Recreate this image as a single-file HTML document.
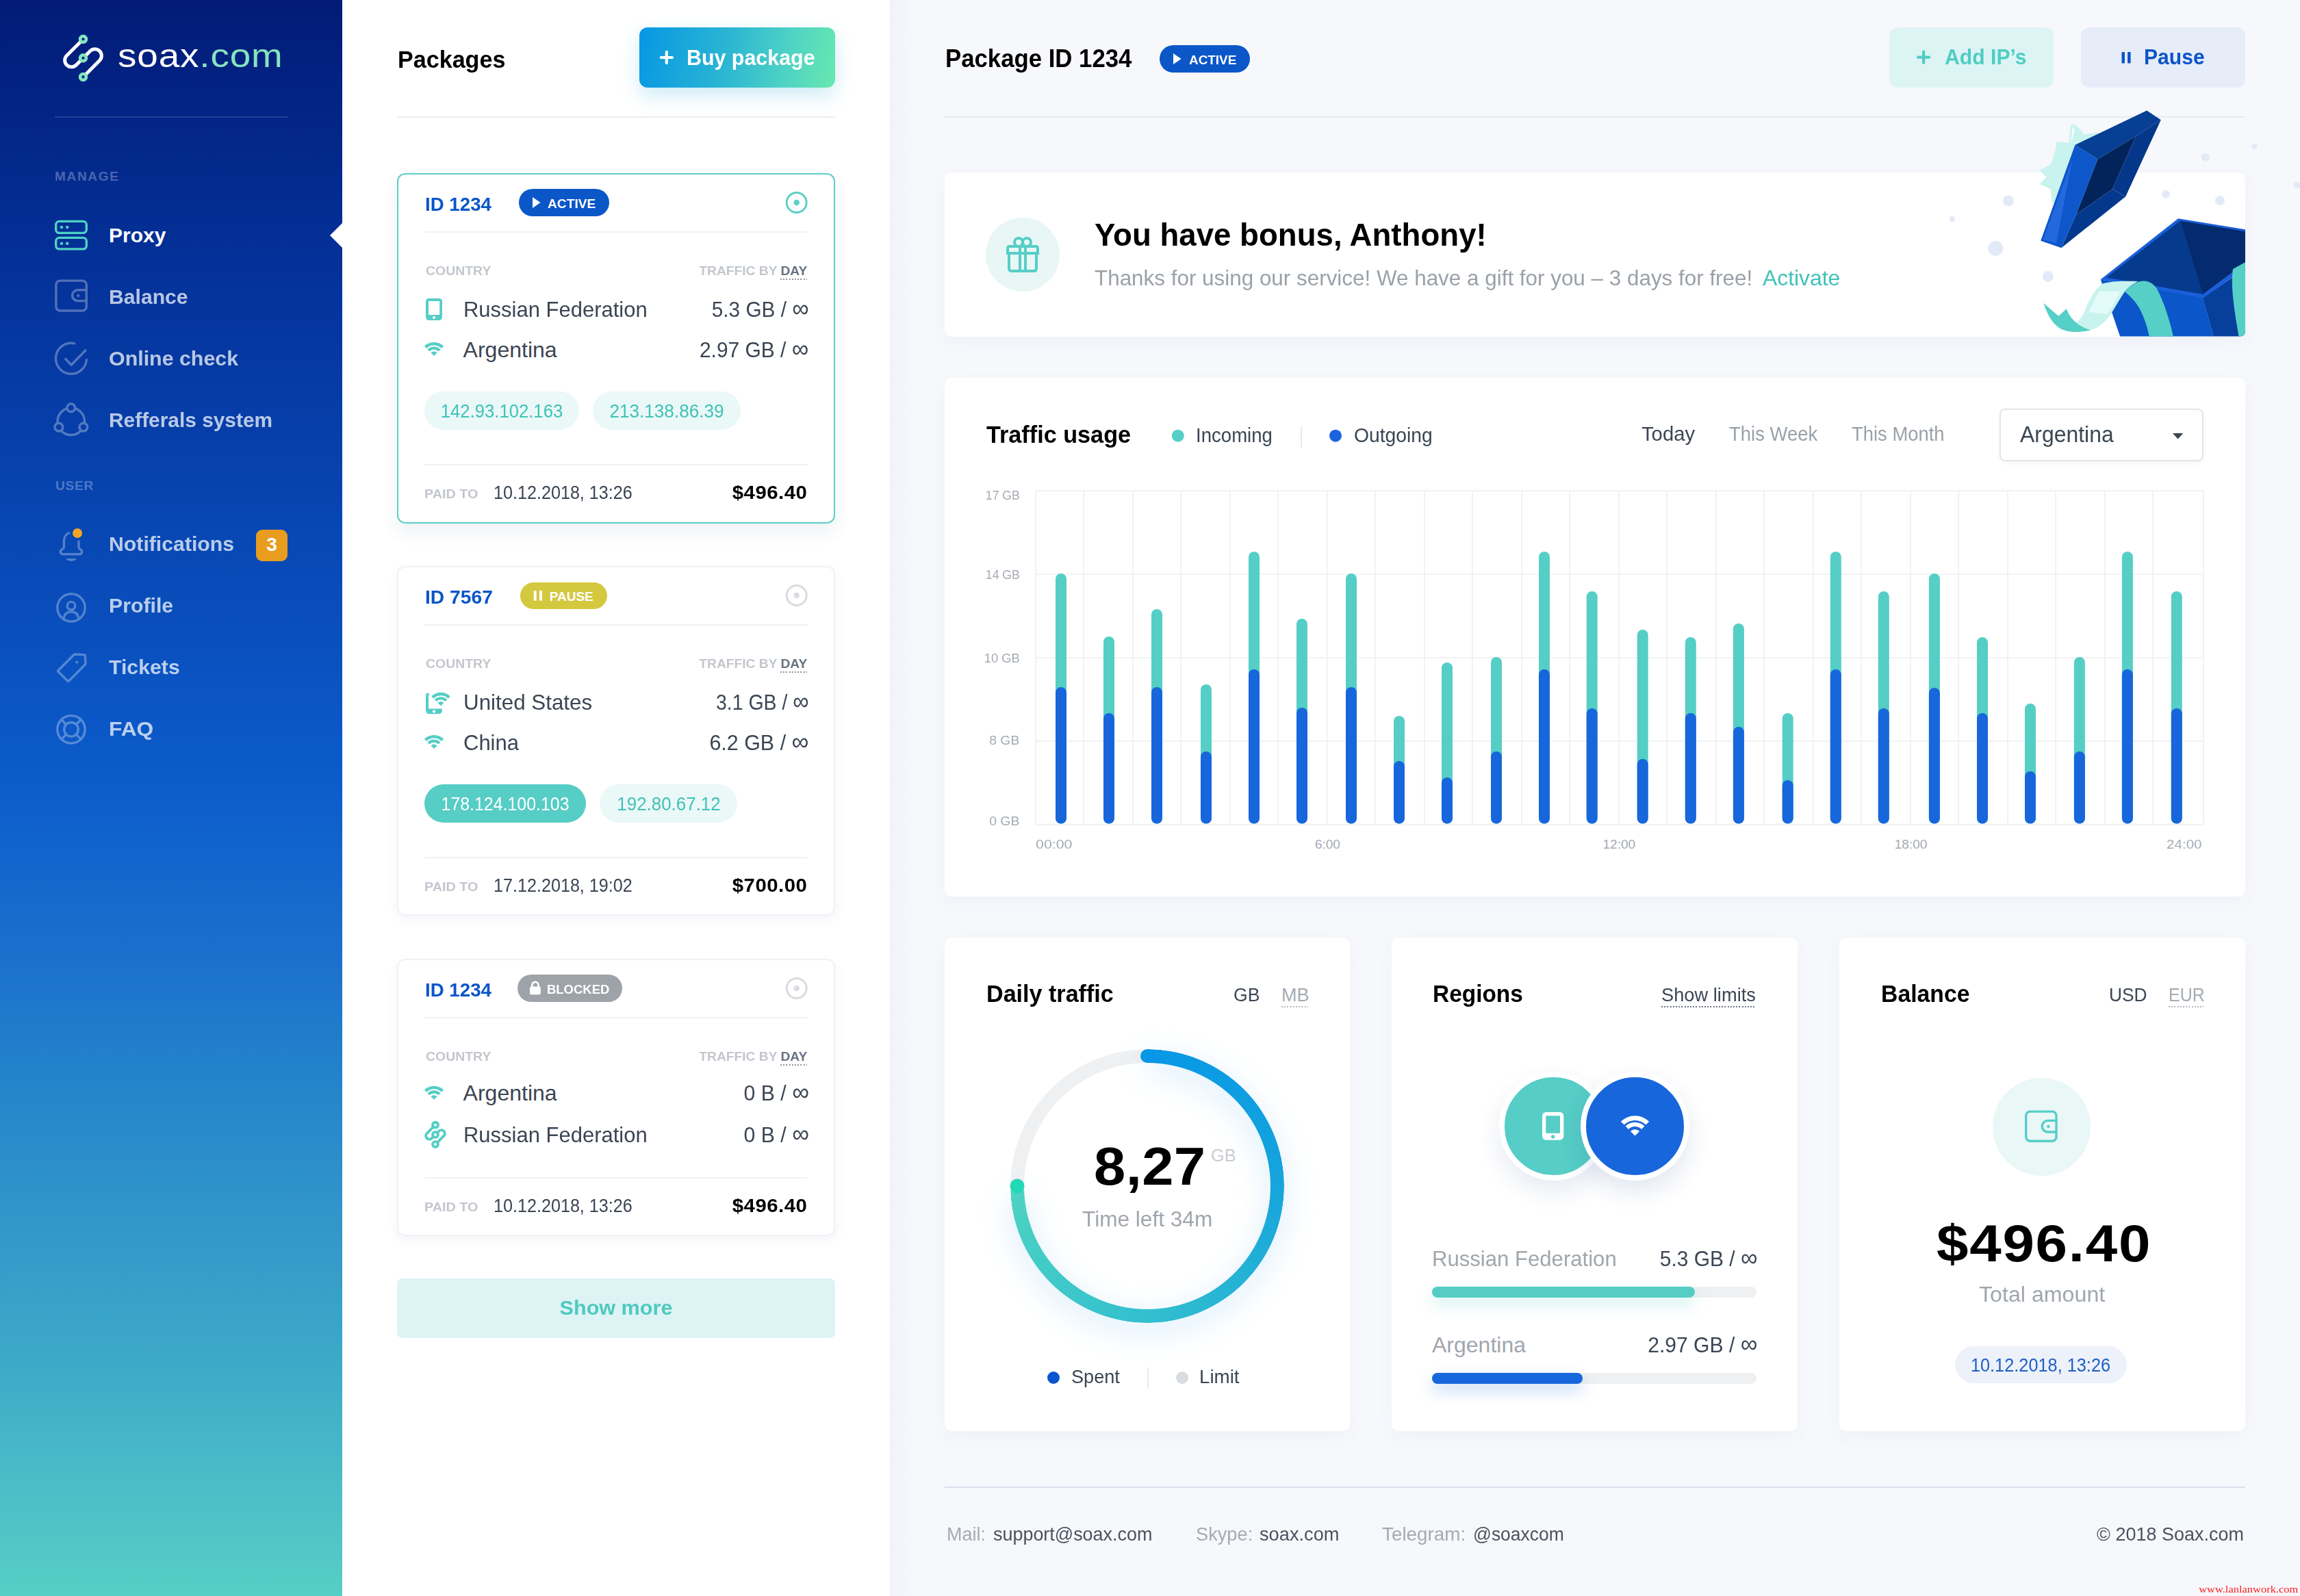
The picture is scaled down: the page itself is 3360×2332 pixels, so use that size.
<!DOCTYPE html>
<html><head><meta charset="utf-8"><title>SOAX dashboard</title><style>*{margin:0;padding:0;box-sizing:border-box}
html,body{width:3360px;height:2332px;overflow:hidden;background:#f6f8fc}
body{position:relative;font-family:"Liberation Sans",sans-serif}
.a{position:absolute}
.t{position:absolute;white-space:nowrap}
@media (max-width:1800px){html{zoom:0.5}}</style></head><body>
<div class="a" style="left:0;top:0;width:500px;height:2332px;background:linear-gradient(180deg,#021b77 0px,#04329a 400px,#0848b5 800px,#0c5ccc 1150px,#1a71cc 1400px,#2c8fca 1700px,#3eaac8 2000px,#56cfc6 2332px)"></div>
<div class="a" style="left:500px;top:0;width:800px;height:2332px;background:#fff"></div>
<div class="a" style="left:1300px;top:0;width:2060px;height:2332px;background:#f7f8fc"></div>
<div class="a" style="left:1300px;top:0;width:36px;height:2332px;background:linear-gradient(90deg,rgba(225,232,240,0.34),rgba(225,232,240,0))"></div>
<svg class="a" style="left:0px;top:0px;" width="200" height="140" viewBox="0 0 200 140">
<path d="M121.5 57.2 L97.4 81.3 A9.76 9.76 0 0 0 111.2 95.1 L121.5 84.8 M121.5 84.8 L131.8 74.5 A9.76 9.76 0 0 1 145.6 88.3 L121.5 112.4" fill="none" stroke="#fff" stroke-width="5" stroke-linecap="round"/>
<g fill="#031d7d" stroke="#86e3bf" stroke-width="4.7">
<circle cx="121.5" cy="57.2" r="4.4"/><circle cx="121.5" cy="84.8" r="4.4"/><circle cx="121.5" cy="112.4" r="4.4"/></g></svg>
<div class="t" id="t0" style="top:57.01px;font-size:49px;line-height:49px;color:#fff;font-weight:400;letter-spacing:0.762px;transform:scaleX(1.12);transform-origin:left top;left:172px;"><span style="color:#fff">soax</span><span style="color:#86e3bf">.com</span></div>
<div class="a" style="left:80px;top:170px;width:340px;height:2px;background:rgba(255,255,255,0.13);border-radius:0px;"></div>
<div class="t" id="t1" style="top:247.91px;font-size:19px;line-height:19px;color:rgba(255,255,255,0.3);font-weight:700;letter-spacing:1.700px;left:80px;">MANAGE</div>
<div class="t" id="t2" style="top:699.71px;font-size:19px;line-height:19px;color:rgba(255,255,255,0.3);font-weight:700;letter-spacing:0.800px;left:81px;">USER</div>
<div class="t" id="t3" style="top:329.20px;font-size:30px;line-height:30px;color:#fff;font-weight:700;left:159px;">Proxy</div>
<div class="t" id="t4" style="top:418.60px;font-size:30px;line-height:30px;color:rgba(255,255,255,0.72);font-weight:700;transform:scaleX(1.0046);transform-origin:left top;left:159px;">Balance</div>
<div class="t" id="t5" style="top:508.60px;font-size:30px;line-height:30px;color:rgba(255,255,255,0.72);font-weight:700;transform:scaleX(1.0127);transform-origin:left top;left:159px;">Online check</div>
<div class="t" id="t6" style="top:598.60px;font-size:30px;line-height:30px;color:rgba(255,255,255,0.72);font-weight:700;transform:scaleX(0.9956);transform-origin:left top;left:159px;">Refferals system</div>
<div class="t" id="t7" style="top:780.10px;font-size:30px;line-height:30px;color:rgba(255,255,255,0.72);font-weight:700;transform:scaleX(1.008);transform-origin:left top;left:159px;">Notifications</div>
<div class="t" id="t8" style="top:870.10px;font-size:30px;line-height:30px;color:rgba(255,255,255,0.72);font-weight:700;transform:scaleX(1.0081);transform-origin:left top;left:159px;">Profile</div>
<div class="t" id="t9" style="top:960.10px;font-size:30px;line-height:30px;color:rgba(255,255,255,0.72);font-weight:700;transform:scaleX(1.0083);transform-origin:left top;left:159px;">Tickets</div>
<div class="t" id="t10" style="top:1050.10px;font-size:30px;line-height:30px;color:rgba(255,255,255,0.72);font-weight:700;transform:scaleX(1.0575);transform-origin:left top;left:159px;">FAQ</div>
<svg class="a" style="left:0px;top:0px;" width="500" height="1200" viewBox="0 0 500 1200">
<g fill="none" stroke="#4fd1c5" stroke-width="3.4">
<rect x="81.7" y="323.4" width="44.6" height="17" rx="5"/><rect x="81.7" y="347.4" width="44.6" height="16.5" rx="5"/></g>
<g fill="#4fd1c5"><circle cx="90" cy="332" r="2.3"/><circle cx="98.2" cy="332" r="2.3"/><circle cx="90" cy="355.7" r="2.3"/><circle cx="98.2" cy="355.7" r="2.3"/></g>
<defs><mask id="mref" maskUnits="userSpaceOnUse" x="0" y="0" width="500" height="1200"><rect x="0" y="0" width="500" height="1200" fill="#fff"/>
<circle cx="103.8" cy="595.9" r="5.9" fill="#000"/><circle cx="85.9" cy="624.1" r="5.9" fill="#000"/><circle cx="121.9" cy="624.1" r="5.9" fill="#000"/></mask></defs>
<g fill="none" stroke="#fff" stroke-width="3.4" stroke-linecap="round" stroke-linejoin="round" opacity="0.3">
<rect x="81.9" y="410.1" width="44.4" height="43.9" rx="6"/>
<path d="M126.3 423.7 H113.5 A7.95 7.95 0 0 0 113.5 439.6 H126.3"/>
<path d="M126.4 525.8 A22.5 22.5 0 1 1 108.7 501.8"/>
<path d="M95.8 524.6 L104.2 533.3 L124.8 512"/>
<circle cx="103.8" cy="615.8" r="19.8" mask="url(#mref)"/>
<circle cx="103.8" cy="595.9" r="5.9"/><circle cx="85.9" cy="624.1" r="5.9"/><circle cx="121.9" cy="624.1" r="5.9"/>
<path d="M102 778.3 C97 779.5 93.4 784 93.4 791 V799.5 C93.4 801 92 801.8 90.5 802.8 C87 805 87.5 809.8 92.5 809.8 H115.5 C120.5 809.8 121 805 117.5 802.8 C116 801.8 115 801 115 799.5 V789.8" stroke-linecap="butt"/>
<path d="M96 816 H112 A10 10 0 0 1 96 816 Z" fill="#fff" stroke="none"/>
<circle cx="104" cy="887.9" r="20.2"/>
<circle cx="104" cy="885.2" r="5.8"/>
<path d="M92.8 903.6 C94.5 896.5 99 893.8 104 893.8 C109 893.8 113.5 896.5 115.2 903.6"/>
<path d="M84.5 980.2 L108.6 956 L122.8 956.6 Q124.3 956.8 124.4 958.3 L125 970.4 L100.3 995.2 Q99.6 995.8 99 995.2 L84.5 980.7 Z"/>
<circle cx="104" cy="1065.8" r="20.2"/><circle cx="104" cy="1065.8" r="10.3"/>
<path d="M96.7 1058.5 L89.7 1051.5 M111.3 1058.5 L118.3 1051.5 M96.7 1073.1 L89.7 1080.1 M111.3 1073.1 L118.3 1080.1"/>
</g>
<circle cx="112.3" cy="967.5" r="2" fill="rgba(255,255,255,0.3)"/>
<circle cx="114.3" cy="431.9" r="2.2" fill="rgba(255,255,255,0.3)"/>
<circle cx="113.1" cy="779" r="7" fill="#f3a425"/>
</svg>
<div class="a" style="left:374px;top:774px;width:46px;height:45.5px;background:#e89d1f;border-radius:9px;"></div>
<div class="t" id="t11" style="top:782.29px;font-size:28px;line-height:28px;color:#fff;font-weight:700;left:-403.00px;width:1600px;text-align:center;">3</div>
<svg class="a" style="left:470px;top:300px;" width="40" height="80" viewBox="0 0 40 80"><polygon points="30,26 12,44 30,62" fill="#fff"/></svg>
<div class="t" id="t12" style="top:69.37px;font-size:35px;line-height:35px;color:#000;font-weight:700;transform:scaleX(0.9743);transform-origin:left top;left:580.7px;">Packages</div>
<div class="a" style="left:934px;top:40px;width:286px;height:88px;background:linear-gradient(100deg,#0797e3 0%,#2bb6d3 45%,#4fd3c4 75%,#68e8b0 100%);border-radius:12px;box-shadow:0 12px 28px rgba(30,170,215,0.22)"></div>
<div class="t" id="t13" style="top:68.31px;font-size:32px;line-height:32px;color:#fff;font-weight:700;transform:scaleX(0.9499);transform-origin:left top;left:1002.6px;">Buy package</div>
<div class="a" style="left:580px;top:170px;width:640px;height:2px;background:#eceef1;border-radius:0px;"></div>
<div class="a" style="left:580px;top:253px;width:640px;height:512px;background:#fff;border-radius:12px;border:2px solid #5dcfc7;box-sizing:border-box;box-shadow:0 12px 26px rgba(40,80,140,0.08)"></div>
<div class="t" id="t14" style="top:285.29px;font-size:28px;line-height:28px;color:#0b55c9;font-weight:700;transform:scaleX(0.9884);transform-origin:left top;left:620.7px;">ID 1234</div>
<div class="a" style="left:758px;top:276px;width:132px;height:40px;background:#0b57c8;border-radius:20px;"></div>
<div class="t" id="t15" style="top:287.91px;font-size:19px;line-height:19px;color:#fff;font-weight:700;transform:scaleX(1.0094);transform-origin:left top;left:800.2px;">ACTIVE</div>
<div class="a" style="left:620px;top:338px;width:560px;height:2px;background:#f0f1f3;border-radius:0px;"></div>
<div class="t" id="t16" style="top:386.31px;font-size:19px;line-height:19px;color:#c3c7cd;font-weight:700;transform:scaleX(1.0226);transform-origin:left top;left:622px;">COUNTRY</div>
<div class="t" id="t17" style="top:386.31px;font-size:19px;line-height:19px;color:#c3c7cd;font-weight:700;transform:scaleX(1.0108);transform-origin:right top;right:2181.00px;">TRAFFIC BY <span style="color:#687280">DAY</span></div>
<div class="a" style="left:1140px;top:407px;width:39px;height:2px;background:repeating-linear-gradient(90deg,#8b939c 0 2px,transparent 2px 4.2px);border-radius:0px;"></div>
<div class="t" id="t18" style="top:435.51px;font-size:32px;line-height:32px;color:#3a4553;font-weight:400;transform:scaleX(0.9682);transform-origin:left top;left:676.6px;">Russian Federation</div>
<div class="t" id="t19" style="top:435.51px;font-size:32px;line-height:32px;color:#3a4553;font-weight:400;transform:scaleX(0.929);transform-origin:right top;right:2178.40px;">5.3 GB / <span style="font-size:1.15em;line-height:0">&#8734;</span></div>
<div class="t" id="t20" style="top:494.71px;font-size:32px;line-height:32px;color:#3a4553;font-weight:400;left:676.6px;">Argentina</div>
<div class="t" id="t21" style="top:494.71px;font-size:32px;line-height:32px;color:#3a4553;font-weight:400;transform:scaleX(0.9359);transform-origin:right top;right:2178.40px;">2.97 GB / <span style="font-size:1.15em;line-height:0">&#8734;</span></div>
<div class="a" style="left:620px;top:572px;width:225.7px;height:56px;background:#eaf8f7;border-radius:28px;"></div>
<div class="t" id="t22" style="top:588.44px;font-size:27px;line-height:27px;color:#41c2b8;font-weight:400;transform:scaleX(0.9505);transform-origin:center top;left:-67.15px;width:1600px;text-align:center;">142.93.102.163</div>
<div class="a" style="left:866px;top:572px;width:215.5px;height:56px;background:#eaf8f7;border-radius:28px;"></div>
<div class="t" id="t23" style="top:588.44px;font-size:27px;line-height:27px;color:#41c2b8;font-weight:400;transform:scaleX(0.9685);transform-origin:center top;left:173.75px;width:1600px;text-align:center;">213.138.86.39</div>
<div class="a" style="left:620px;top:678px;width:560px;height:2px;background:#f0f1f3;border-radius:0px;"></div>
<div class="t" id="t24" style="top:711.91px;font-size:19px;line-height:19px;color:#c3c7cd;font-weight:700;transform:scaleX(1.0408);transform-origin:left top;left:620px;">PAID TO</div>
<div class="t" id="t25" style="top:706.64px;font-size:27px;line-height:27px;color:#3a4553;font-weight:400;transform:scaleX(0.9314);transform-origin:left top;left:721px;">10.12.2018, 13:26</div>
<div class="t" id="t26" style="top:705.79px;font-size:28px;line-height:28px;color:#000;font-weight:700;letter-spacing:0.441px;transform:scaleX(1.05);transform-origin:right top;right:2180.96px;">$496.40</div>
<div class="a" style="left:580px;top:827px;width:640px;height:511px;background:#fff;border-radius:12px;border:2px solid #f0f2f5;box-sizing:border-box;box-shadow:0 6px 16px rgba(40,70,120,0.06)"></div>
<div class="t" id="t27" style="top:859.29px;font-size:28px;line-height:28px;color:#0b55c9;font-weight:700;transform:scaleX(1.0092);transform-origin:left top;left:620.7px;">ID 7567</div>
<div class="a" style="left:760px;top:850.6px;width:127px;height:39px;background:#d4c83f;border-radius:20px;"></div>
<div class="t" id="t28" style="top:861.61px;font-size:19px;line-height:19px;color:#fff;font-weight:700;left:802.7px;">PAUSE</div>
<div class="a" style="left:620px;top:912px;width:560px;height:2px;background:#f0f1f3;border-radius:0px;"></div>
<div class="t" id="t29" style="top:960.31px;font-size:19px;line-height:19px;color:#c3c7cd;font-weight:700;transform:scaleX(1.0226);transform-origin:left top;left:622px;">COUNTRY</div>
<div class="t" id="t30" style="top:960.31px;font-size:19px;line-height:19px;color:#c3c7cd;font-weight:700;transform:scaleX(1.0108);transform-origin:right top;right:2181.00px;">TRAFFIC BY <span style="color:#687280">DAY</span></div>
<div class="a" style="left:1140px;top:981px;width:39px;height:2px;background:repeating-linear-gradient(90deg,#8b939c 0 2px,transparent 2px 4.2px);border-radius:0px;"></div>
<div class="t" id="t31" style="top:1009.51px;font-size:32px;line-height:32px;color:#3a4553;font-weight:400;transform:scaleX(0.9796);transform-origin:left top;left:676.6px;">United States</div>
<div class="t" id="t32" style="top:1009.51px;font-size:32px;line-height:32px;color:#3a4553;font-weight:400;transform:scaleX(0.889);transform-origin:right top;right:2178.40px;">3.1 GB / <span style="font-size:1.15em;line-height:0">&#8734;</span></div>
<div class="t" id="t33" style="top:1068.71px;font-size:32px;line-height:32px;color:#3a4553;font-weight:400;transform:scaleX(0.9684);transform-origin:left top;left:676.6px;">China</div>
<div class="t" id="t34" style="top:1068.71px;font-size:32px;line-height:32px;color:#3a4553;font-weight:400;transform:scaleX(0.9516);transform-origin:right top;right:2178.40px;">6.2 GB / <span style="font-size:1.15em;line-height:0">&#8734;</span></div>
<div class="a" style="left:620px;top:1146px;width:235.8px;height:56px;background:#56cdc5;border-radius:28px;"></div>
<div class="t" id="t35" style="top:1162.44px;font-size:27px;line-height:27px;color:#fff;font-weight:400;transform:scaleX(0.9232);transform-origin:center top;left:-62.10px;width:1600px;text-align:center;">178.124.100.103</div>
<div class="a" style="left:876.2px;top:1146px;width:201.2px;height:56px;background:#eaf8f7;border-radius:28px;"></div>
<div class="t" id="t36" style="top:1162.44px;font-size:27px;line-height:27px;color:#41c2b8;font-weight:400;transform:scaleX(0.9598);transform-origin:center top;left:176.80px;width:1600px;text-align:center;">192.80.67.12</div>
<div class="a" style="left:620px;top:1252px;width:560px;height:2px;background:#f0f1f3;border-radius:0px;"></div>
<div class="t" id="t37" style="top:1285.91px;font-size:19px;line-height:19px;color:#c3c7cd;font-weight:700;transform:scaleX(1.0408);transform-origin:left top;left:620px;">PAID TO</div>
<div class="t" id="t38" style="top:1280.64px;font-size:27px;line-height:27px;color:#3a4553;font-weight:400;transform:scaleX(0.9314);transform-origin:left top;left:721px;">17.12.2018, 19:02</div>
<div class="t" id="t39" style="top:1279.79px;font-size:28px;line-height:28px;color:#000;font-weight:700;letter-spacing:0.441px;transform:scaleX(1.05);transform-origin:right top;right:2180.96px;">$700.00</div>
<div class="a" style="left:580px;top:1401px;width:640px;height:405px;background:#fff;border-radius:12px;border:2px solid #f0f2f5;box-sizing:border-box;box-shadow:0 6px 16px rgba(40,70,120,0.06)"></div>
<div class="t" id="t40" style="top:1433.29px;font-size:28px;line-height:28px;color:#0b55c9;font-weight:700;transform:scaleX(0.9884);transform-origin:left top;left:620.7px;">ID 1234</div>
<div class="a" style="left:756px;top:1424px;width:153px;height:39.5px;background:#9ea3a9;border-radius:20px;"></div>
<div class="t" id="t41" style="top:1436.11px;font-size:19px;line-height:19px;color:#fff;font-weight:700;transform:scaleX(0.9717);transform-origin:left top;left:798.5px;">BLOCKED</div>
<div class="a" style="left:620px;top:1486px;width:560px;height:2px;background:#f0f1f3;border-radius:0px;"></div>
<div class="t" id="t42" style="top:1534.31px;font-size:19px;line-height:19px;color:#c3c7cd;font-weight:700;transform:scaleX(1.0226);transform-origin:left top;left:622px;">COUNTRY</div>
<div class="t" id="t43" style="top:1534.31px;font-size:19px;line-height:19px;color:#c3c7cd;font-weight:700;transform:scaleX(1.0108);transform-origin:right top;right:2181.00px;">TRAFFIC BY <span style="color:#687280">DAY</span></div>
<div class="a" style="left:1140px;top:1555px;width:39px;height:2px;background:repeating-linear-gradient(90deg,#8b939c 0 2px,transparent 2px 4.2px);border-radius:0px;"></div>
<div class="t" id="t44" style="top:1581.41px;font-size:32px;line-height:32px;color:#3a4553;font-weight:400;left:676.6px;">Argentina</div>
<div class="t" id="t45" style="top:1581.41px;font-size:32px;line-height:32px;color:#3a4553;font-weight:400;transform:scaleX(0.9443);transform-origin:right top;right:2178.40px;">0 B / <span style="font-size:1.15em;line-height:0">&#8734;</span></div>
<div class="t" id="t46" style="top:1642.31px;font-size:32px;line-height:32px;color:#3a4553;font-weight:400;transform:scaleX(0.9682);transform-origin:left top;left:676.6px;">Russian Federation</div>
<div class="t" id="t47" style="top:1642.31px;font-size:32px;line-height:32px;color:#3a4553;font-weight:400;transform:scaleX(0.9443);transform-origin:right top;right:2178.40px;">0 B / <span style="font-size:1.15em;line-height:0">&#8734;</span></div>
<div class="a" style="left:620px;top:1720px;width:560px;height:2px;background:#f0f1f3;border-radius:0px;"></div>
<div class="t" id="t48" style="top:1753.91px;font-size:19px;line-height:19px;color:#c3c7cd;font-weight:700;transform:scaleX(1.0408);transform-origin:left top;left:620px;">PAID TO</div>
<div class="t" id="t49" style="top:1748.64px;font-size:27px;line-height:27px;color:#3a4553;font-weight:400;transform:scaleX(0.9314);transform-origin:left top;left:721px;">10.12.2018, 13:26</div>
<div class="t" id="t50" style="top:1747.79px;font-size:28px;line-height:28px;color:#000;font-weight:700;letter-spacing:0.441px;transform:scaleX(1.05);transform-origin:right top;right:2180.96px;">$496.40</div>
<div class="a" style="left:580px;top:1868px;width:640px;height:87px;background:#ddf3f4;border-radius:8px;"></div>
<div class="t" id="t51" style="top:1895.60px;font-size:30px;line-height:30px;color:#4ec9c0;font-weight:700;transform:scaleX(1.0194);transform-origin:center top;left:100.00px;width:1600px;text-align:center;">Show more</div>
<div class="t" id="t52" style="top:67.52px;font-size:36px;line-height:36px;color:#000;font-weight:700;transform:scaleX(0.9654);transform-origin:left top;left:1381px;">Package ID 1234</div>
<div class="a" style="left:1694px;top:66px;width:132px;height:40px;background:#0b57c8;border-radius:20px;"></div>
<div class="t" id="t53" style="top:77.91px;font-size:19px;line-height:19px;color:#fff;font-weight:700;transform:scaleX(0.9948);transform-origin:left top;left:1736.8px;">ACTIVE</div>
<div class="a" style="left:2760px;top:40px;width:240px;height:88px;background:#ddf4f4;border-radius:12px;"></div>
<div class="t" id="t54" style="top:67.31px;font-size:32px;line-height:32px;color:#4fcdc4;font-weight:700;transform:scaleX(0.9431);transform-origin:left top;left:2840.5px;">Add IP&#8217;s</div>
<div class="a" style="left:3040px;top:40px;width:240px;height:88px;background:#e6ecf8;border-radius:12px;"></div>
<div class="t" id="t55" style="top:67.31px;font-size:32px;line-height:32px;color:#0b55c9;font-weight:700;transform:scaleX(0.9398);transform-origin:left top;left:3131.5px;">Pause</div>
<div class="a" style="left:1380px;top:170px;width:1900px;height:2px;background:#e6e9ee;border-radius:0px;"></div>
<div class="a" style="left:1380px;top:252px;width:1900px;height:240px;background:#fff;border-radius:10px;box-shadow:0 8px 26px rgba(40,90,150,0.045)"></div>
<div class="a" style="left:1440px;top:318px;width:108px;height:108px;background:#e8f7f6;border-radius:54px;"></div>
<div class="t" id="t56" style="top:319.95px;font-size:46px;line-height:46px;color:#000;font-weight:700;transform:scaleX(0.9916);transform-origin:left top;left:1598.7px;">You have bonus, Anthony!</div>
<div class="t" id="t57" style="top:390.21px;font-size:32px;line-height:32px;color:#9ba1a9;font-weight:400;transform:scaleX(0.9814);transform-origin:left top;left:1598.7px;">Thanks for using our service! We have a gift for you &#8211; 3 days for free!</div>
<div class="t" id="t58" style="top:390.21px;font-size:32px;line-height:32px;color:#41c2b8;font-weight:400;transform:scaleX(0.9947);transform-origin:left top;left:2574.6px;">Activate</div>
<svg class="a" style="left:0px;top:0px;pointer-events:none" width="3360" height="520" viewBox="0 0 3360 520"><defs><clipPath id="cbox"><path d="M1380 252 H3272 Q3280 252 3280 260 V483.5 Q3280 491.5 3272 491.5 H1380 Z"/></clipPath></defs><circle cx="2933.9" cy="293.5" r="8" fill="#e3eaf7"/><circle cx="2852" cy="319.9" r="4" fill="#e3eaf7"/><circle cx="2915.2" cy="363" r="11" fill="#e3eaf7"/><circle cx="2991.8" cy="404" r="8" fill="#e3eaf7"/><circle cx="3164" cy="283.7" r="6" fill="#e3eaf7"/><circle cx="3242.9" cy="292.9" r="7" fill="#e3eaf7"/><circle cx="3221.7" cy="229.8" r="6" fill="#e3eaf7"/><circle cx="3293.4" cy="213.7" r="4" fill="#e3eaf7"/><circle cx="3355.7" cy="270.5" r="5" fill="#e3eaf7"/><polygon points="3029.6,183.1 3037.0,189.0 3044.0,198.0 3064.0,195.0 3070.0,240.0 3040.0,300.0 2998.6,294.7 2997.2,275.4 2982.0,268.5 2991.7,258.9 2982.0,249.2 2997.0,241.0 3000.0,232.7 3004.0,220.3 3005.5,207.9 3023.4,210.7 3026.2,184.5" fill="#c9f3ef" stroke="#c9f3ef" stroke-width="3" stroke-linejoin="round"/><path d="M3027.5 186 L3030.5 190 L3025.5 211 Z" fill="#fff"/><polygon points="3031.4,211.7 3136.2,161.5 3156.8,175.3 3120.4,198.8 3064.4,232.6" fill="#073f95"/><polygon points="3120.4,198.8 3156.8,175.3 3105.2,287.2 3085.9,276.3" fill="#04378a"/><polygon points="3064.4,232.6 3120.4,198.8 3085.9,276.3 3032.9,313.6" fill="#03245b"/><polygon points="3032.9,313.6 3085.9,276.3 3105.2,287.2 3011.3,362.3" fill="#04388c"/><polygon points="3031.4,211.7 3064.4,232.6 3032.9,313.6 3011.3,362.3 2981.2,351.7" fill="#0d57cb"/><polygon points="3027.5,232.7 3004.1,355.4 2984.8,349.9" fill="#2369dc"/><g clip-path="url(#cbox)"><polygon points="3068.7,408.2 3182.1,319.3 3290.0,337.0 3290.0,384.0 3218.0,437.0" fill="#1a5fda"/><polygon points="3077.3,405.4 3185.0,322.6 3218.0,430.0" fill="#063a8c"/><polygon points="3185.0,322.6 3290.0,340.0 3290.0,376.0 3218.0,430.0" fill="#032b6e"/><polygon points="3068.7,408.2 3218.0,435.5 3236.0,500.0 3100.0,500.0" fill="#0b56c9"/><polygon points="3218.0,436.0 3290.0,385.0 3290.0,500.0 3236.0,500.0" fill="#063f9c"/><path d="M3104 426 C3115 414 3125 410 3133 410.5 C3141 411 3147 416 3151 422 C3158 435 3168 460 3175 492 L3140 492 C3135 470 3128 452 3119 441 C3114 435 3109 430 3104 426 Z" fill="#56cfc6"/><path d="M3262 393 C3258 420 3265 460 3272 500 L3290 500 L3290 378 Z" fill="#56cfc6"/><path d="M3070 415 C3080 411 3100 410 3124 411 C3115 415 3109 420 3104 426 C3096 438 3090 449 3085 457 C3078 468 3070 477 3054 482.3 C3046 481 3039 478 3032 472 C3039 467 3043 461 3046 453 C3050 442 3057 427 3070 415 Z" fill="#c8f3ef"/><path d="M3066.6 425.4 L3098.2 425.9 L3079 458.9 L3050.8 456 Z" fill="#e3fbf9"/><path d="M2985.3 443.1 L3007.3 461.7 L3018.8 451.2 C3024 464 3033 476 3054.2 482.3 C3040 486 3020 487 3008 479 C2998 472 2991 460 2985.3 443.1 Z" fill="#56cfc6"/></g></svg>
<div class="a" style="left:1380px;top:552px;width:1900px;height:758px;background:#fff;border-radius:10px;box-shadow:0 8px 26px rgba(40,90,150,0.045)"></div>
<div class="t" id="t59" style="top:616.87px;font-size:35px;line-height:35px;color:#000;font-weight:700;transform:scaleX(0.9776);transform-origin:left top;left:1441px;">Traffic usage</div>
<div class="t" id="t60" style="top:621.95px;font-size:29px;line-height:29px;color:#3b4654;font-weight:400;transform:scaleX(0.9512);transform-origin:left top;left:1747px;">Incoming</div>
<div class="a" style="left:1900px;top:623px;width:2px;height:31px;background:#e6e9ee;border-radius:0px;"></div>
<div class="t" id="t61" style="top:621.95px;font-size:29px;line-height:29px;color:#3b4654;font-weight:400;transform:scaleX(0.9743);transform-origin:left top;left:1978px;">Outgoing</div>
<div class="t" id="t62" style="top:620.15px;font-size:29px;line-height:29px;color:#3b4654;font-weight:400;transform:scaleX(1.0085);transform-origin:left top;left:2397.6px;">Today</div>
<div class="t" id="t63" style="top:620.15px;font-size:29px;line-height:29px;color:#9aa1a9;font-weight:400;transform:scaleX(0.947);transform-origin:left top;left:2525.7px;">This Week</div>
<div class="t" id="t64" style="top:620.15px;font-size:29px;line-height:29px;color:#9aa1a9;font-weight:400;transform:scaleX(0.9454);transform-origin:left top;left:2705px;">This Month</div>
<div class="a" style="left:2921px;top:597px;width:298px;height:77px;background:#fff;border-radius:8px;border:2px solid #e2e5ea;box-sizing:border-box;box-shadow:0 3px 6px rgba(20,40,80,0.04)"></div>
<div class="t" id="t65" style="top:618.46px;font-size:33px;line-height:33px;color:#3b4654;font-weight:400;transform:scaleX(0.9672);transform-origin:left top;left:2951.4px;">Argentina</div>
<svg class="a" style="left:0px;top:0px;pointer-events:none" width="3360" height="1310" viewBox="0 0 3360 1310"><rect x="1512.00" y="716" width="2" height="490" fill="#f1f2f4"/><rect x="1582.00" y="716" width="2" height="490" fill="#f1f2f4"/><rect x="1654.00" y="716" width="2" height="490" fill="#f1f2f4"/><rect x="1724.00" y="716" width="2" height="490" fill="#f1f2f4"/><rect x="1796.00" y="716" width="2" height="490" fill="#f1f2f4"/><rect x="1866.00" y="716" width="2" height="490" fill="#f1f2f4"/><rect x="1938.00" y="716" width="2" height="490" fill="#f1f2f4"/><rect x="2008.00" y="716" width="2" height="490" fill="#f1f2f4"/><rect x="2080.00" y="716" width="2" height="490" fill="#f1f2f4"/><rect x="2150.00" y="716" width="2" height="490" fill="#f1f2f4"/><rect x="2222.00" y="716" width="2" height="490" fill="#f1f2f4"/><rect x="2292.00" y="716" width="2" height="490" fill="#f1f2f4"/><rect x="2364.00" y="716" width="2" height="490" fill="#f1f2f4"/><rect x="2434.00" y="716" width="2" height="490" fill="#f1f2f4"/><rect x="2506.00" y="716" width="2" height="490" fill="#f1f2f4"/><rect x="2576.00" y="716" width="2" height="490" fill="#f1f2f4"/><rect x="2648.00" y="716" width="2" height="490" fill="#f1f2f4"/><rect x="2718.00" y="716" width="2" height="490" fill="#f1f2f4"/><rect x="2790.00" y="716" width="2" height="490" fill="#f1f2f4"/><rect x="2860.00" y="716" width="2" height="490" fill="#f1f2f4"/><rect x="2932.00" y="716" width="2" height="490" fill="#f1f2f4"/><rect x="3002.00" y="716" width="2" height="490" fill="#f1f2f4"/><rect x="3074.00" y="716" width="2" height="490" fill="#f1f2f4"/><rect x="3144.00" y="716" width="2" height="490" fill="#f1f2f4"/><rect x="3218.00" y="716" width="2" height="490" fill="#f1f2f4"/><rect x="1512" y="716" width="1708" height="2" fill="#f1f2f4"/><rect x="1512" y="838" width="1708" height="2" fill="#f1f2f4"/><rect x="1512" y="960" width="1708" height="2" fill="#f1f2f4"/><rect x="1512" y="1082" width="1708" height="2" fill="#f1f2f4"/><rect x="1512" y="1204" width="1708" height="2" fill="#f1f2f4"/><rect x="1542.00" y="838" width="16" height="365.5" rx="8" fill="#55cec6"/><rect x="1542.00" y="1004" width="16" height="199.5" rx="8" fill="#1766dc"/><rect x="1612.00" y="930" width="16" height="273.5" rx="8" fill="#55cec6"/><rect x="1612.00" y="1042" width="16" height="161.5" rx="8" fill="#1766dc"/><rect x="1682.00" y="890" width="16" height="313.5" rx="8" fill="#55cec6"/><rect x="1682.00" y="1004" width="16" height="199.5" rx="8" fill="#1766dc"/><rect x="1754.00" y="1000" width="16" height="203.5" rx="8" fill="#55cec6"/><rect x="1754.00" y="1098" width="16" height="105.5" rx="8" fill="#1766dc"/><rect x="1824.00" y="806" width="16" height="397.5" rx="8" fill="#55cec6"/><rect x="1824.00" y="978" width="16" height="225.5" rx="8" fill="#1766dc"/><rect x="1894.00" y="904" width="16" height="299.5" rx="8" fill="#55cec6"/><rect x="1894.00" y="1034" width="16" height="169.5" rx="8" fill="#1766dc"/><rect x="1966.00" y="838" width="16" height="365.5" rx="8" fill="#55cec6"/><rect x="1966.00" y="1004" width="16" height="199.5" rx="8" fill="#1766dc"/><rect x="2036.00" y="1046" width="16" height="157.5" rx="8" fill="#55cec6"/><rect x="2036.00" y="1112" width="16" height="91.5" rx="8" fill="#1766dc"/><rect x="2106.00" y="968" width="16" height="235.5" rx="8" fill="#55cec6"/><rect x="2106.00" y="1136" width="16" height="67.5" rx="8" fill="#1766dc"/><rect x="2178.00" y="960" width="16" height="243.5" rx="8" fill="#55cec6"/><rect x="2178.00" y="1098" width="16" height="105.5" rx="8" fill="#1766dc"/><rect x="2248.00" y="806" width="16" height="397.5" rx="8" fill="#55cec6"/><rect x="2248.00" y="978" width="16" height="225.5" rx="8" fill="#1766dc"/><rect x="2317.70" y="864" width="16" height="339.5" rx="8" fill="#55cec6"/><rect x="2317.70" y="1035" width="16" height="168.5" rx="8" fill="#1766dc"/><rect x="2391.70" y="920" width="16" height="283.5" rx="8" fill="#55cec6"/><rect x="2391.70" y="1109" width="16" height="94.5" rx="8" fill="#1766dc"/><rect x="2461.80" y="931" width="16" height="272.5" rx="8" fill="#55cec6"/><rect x="2461.80" y="1042" width="16" height="161.5" rx="8" fill="#1766dc"/><rect x="2531.90" y="911" width="16" height="292.5" rx="8" fill="#55cec6"/><rect x="2531.90" y="1062" width="16" height="141.5" rx="8" fill="#1766dc"/><rect x="2603.70" y="1042" width="16" height="161.5" rx="8" fill="#55cec6"/><rect x="2603.70" y="1140" width="16" height="63.5" rx="8" fill="#1766dc"/><rect x="2673.80" y="806" width="16" height="397.5" rx="8" fill="#55cec6"/><rect x="2673.80" y="978" width="16" height="225.5" rx="8" fill="#1766dc"/><rect x="2743.80" y="864" width="16" height="339.5" rx="8" fill="#55cec6"/><rect x="2743.80" y="1035" width="16" height="168.5" rx="8" fill="#1766dc"/><rect x="2817.90" y="838" width="16" height="365.5" rx="8" fill="#55cec6"/><rect x="2817.90" y="1005" width="16" height="198.5" rx="8" fill="#1766dc"/><rect x="2888.00" y="931" width="16" height="272.5" rx="8" fill="#55cec6"/><rect x="2888.00" y="1042" width="16" height="161.5" rx="8" fill="#1766dc"/><rect x="2958.00" y="1028" width="16" height="175.5" rx="8" fill="#55cec6"/><rect x="2958.00" y="1127" width="16" height="76.5" rx="8" fill="#1766dc"/><rect x="3029.90" y="960" width="16" height="243.5" rx="8" fill="#55cec6"/><rect x="3029.90" y="1098" width="16" height="105.5" rx="8" fill="#1766dc"/><rect x="3099.90" y="806" width="16" height="397.5" rx="8" fill="#55cec6"/><rect x="3099.90" y="978" width="16" height="225.5" rx="8" fill="#1766dc"/><rect x="3171.80" y="864" width="16" height="339.5" rx="8" fill="#55cec6"/><rect x="3171.80" y="1035" width="16" height="168.5" rx="8" fill="#1766dc"/></svg>
<div class="t" id="t66" style="top:713.91px;font-size:19px;line-height:19px;color:#a5abb3;font-weight:400;transform:scaleX(0.9287);transform-origin:right top;right:1870.50px;">17 GB</div>
<div class="t" id="t67" style="top:829.91px;font-size:19px;line-height:19px;color:#a5abb3;font-weight:400;transform:scaleX(0.9287);transform-origin:right top;right:1870.50px;">14 GB</div>
<div class="t" id="t68" style="top:951.91px;font-size:19px;line-height:19px;color:#a5abb3;font-weight:400;transform:scaleX(0.9668);transform-origin:right top;right:1870.50px;">10 GB</div>
<div class="t" id="t69" style="top:1071.91px;font-size:19px;line-height:19px;color:#a5abb3;font-weight:400;transform:scaleX(1.0195);transform-origin:right top;right:1870.50px;">8 GB</div>
<div class="t" id="t70" style="top:1189.91px;font-size:19px;line-height:19px;color:#a5abb3;font-weight:400;transform:scaleX(1.0195);transform-origin:right top;right:1870.50px;">0 GB</div>
<div class="t" id="t71" style="top:1223.91px;font-size:19px;line-height:19px;color:#a5abb3;font-weight:400;transform:scaleX(1.1251);transform-origin:left top;left:1512.8px;">00:00</div>
<div class="t" id="t72" style="top:1223.91px;font-size:19px;line-height:19px;color:#a5abb3;font-weight:400;left:1139.40px;width:1600px;text-align:center;">6:00</div>
<div class="t" id="t73" style="top:1223.91px;font-size:19px;line-height:19px;color:#a5abb3;font-weight:400;left:1565.30px;width:1600px;text-align:center;">12:00</div>
<div class="t" id="t74" style="top:1223.91px;font-size:19px;line-height:19px;color:#a5abb3;font-weight:400;left:1991.50px;width:1600px;text-align:center;">18:00</div>
<div class="t" id="t75" style="top:1223.91px;font-size:19px;line-height:19px;color:#a5abb3;font-weight:400;transform:scaleX(1.0819);transform-origin:right top;right:143.00px;">24:00</div>
<div class="a" style="left:1380px;top:1370px;width:592px;height:721px;background:#fff;border-radius:10px;box-shadow:0 8px 26px rgba(40,90,150,0.045)"></div>
<div class="a" style="left:2033px;top:1370px;width:593px;height:721px;background:#fff;border-radius:10px;box-shadow:0 8px 26px rgba(40,90,150,0.045)"></div>
<div class="a" style="left:2687px;top:1370px;width:593px;height:721px;background:#fff;border-radius:10px;box-shadow:0 8px 26px rgba(40,90,150,0.045)"></div>
<div class="t" id="t76" style="top:1434.37px;font-size:35px;line-height:35px;color:#000;font-weight:700;transform:scaleX(0.9746);transform-origin:left top;left:1441.4px;">Daily traffic</div>
<div class="t" id="t77" style="top:1441.14px;font-size:27px;line-height:27px;color:#3b4654;font-weight:400;transform:scaleX(0.9858);transform-origin:left top;left:1802.4px;">GB</div>
<div class="t" id="t78" style="top:1441.14px;font-size:27px;line-height:27px;color:#a5abb3;font-weight:400;left:1872px;">MB</div>
<div class="a" style="left:1872px;top:1469.5px;width:38.5px;height:2px;background:repeating-linear-gradient(90deg,#b3b9c1 0 2px,transparent 2px 4.2px);border-radius:0px;"></div>
<div class="a" style="left:1476px;top:1533px;width:400px;height:400px;background:#eff0f2;border-radius:200px;-webkit-mask:radial-gradient(circle,transparent 179.5px,#000 180.5px,#000 199.5px,transparent 200.5px);mask:radial-gradient(circle,transparent 179.5px,#000 180.5px,#000 199.5px,transparent 200.5px)"></div>
<div class="a" style="left:1476px;top:1533px;width:400px;height:400px;filter:drop-shadow(0 12px 22px rgba(30,150,230,0.22))"><div class="a" style="left:0;top:0;width:400px;height:400px;border-radius:200px;background:conic-gradient(from 0deg,#0797e6 0deg,#16a5dc 90deg,#32bfcf 180deg,#4dd3c2 268deg,transparent 268.5deg);-webkit-mask:radial-gradient(circle,transparent 179.5px,#000 180.5px,#000 199.5px,transparent 200.5px);mask:radial-gradient(circle,transparent 179.5px,#000 180.5px,#000 199.5px,transparent 200.5px)"></div></div>
<div class="t" id="t79" style="top:1665.80px;font-size:77px;line-height:77px;color:#000;font-weight:700;letter-spacing:0.357px;transform:scaleX(1.08);transform-origin:left top;left:1597.6px;">8,27</div>
<div class="t" id="t80" style="top:1676.43px;font-size:25px;line-height:25px;color:#c8ccd1;font-weight:400;transform:scaleX(1.0182);transform-origin:left top;left:1769px;">GB</div>
<div class="t" id="t81" style="top:1765.75px;font-size:31px;line-height:31px;color:#a0a6ad;font-weight:400;transform:scaleX(1.0192);transform-origin:left top;left:1581px;">Time left 34m</div>
<div class="t" id="t82" style="top:1998.29px;font-size:28px;line-height:28px;color:#3b4654;font-weight:400;transform:scaleX(0.9689);transform-origin:left top;left:1565px;">Spent</div>
<div class="a" style="left:1676px;top:1998px;width:2px;height:31px;background:#e8eaee;border-radius:0px;"></div>
<div class="t" id="t83" style="top:1998.29px;font-size:28px;line-height:28px;color:#3b4654;font-weight:400;transform:scaleX(0.9901);transform-origin:left top;left:1752.4px;">Limit</div>
<div class="t" id="t84" style="top:1434.37px;font-size:35px;line-height:35px;color:#000;font-weight:700;transform:scaleX(0.9548);transform-origin:left top;left:2092.9px;">Regions</div>
<div class="t" id="t85" style="top:1440.29px;font-size:28px;line-height:28px;color:#3b4654;font-weight:400;transform:scaleX(0.974);transform-origin:left top;left:2427px;">Show limits</div>
<div class="a" style="left:2427px;top:1469.5px;width:136px;height:2px;background:repeating-linear-gradient(90deg,#6b7480 0 2px,transparent 2px 4.2px);border-radius:0px;"></div>
<div class="a" style="left:2189.5px;top:1565.5px;width:159px;height:159px;background:#56cdc6;border-radius:80px;border:8px solid #fff;box-sizing:border-box;box-shadow:0 16px 34px rgba(20,60,140,0.10)"></div>
<div class="a" style="left:2308.5px;top:1565.5px;width:159px;height:159px;background:#1766dc;border-radius:80px;border:8px solid #fff;box-sizing:border-box;box-shadow:0 16px 34px rgba(20,60,140,0.12)"></div>
<div class="t" id="t86" style="top:1822.91px;font-size:32px;line-height:32px;color:#a0a6ad;font-weight:400;transform:scaleX(0.9719);transform-origin:left top;left:2092px;">Russian Federation</div>
<div class="t" id="t87" style="top:1822.91px;font-size:32px;line-height:32px;color:#3b4654;font-weight:400;transform:scaleX(0.9356);transform-origin:right top;right:792.40px;">5.3 GB / <span style="font-size:1.15em;line-height:0">&#8734;</span></div>
<div class="a" style="left:2092px;top:1880px;width:474px;height:16px;background:#eff0f2;border-radius:8px;"></div>
<div class="a" style="left:2092px;top:1880px;width:384px;height:16px;background:#55cdc5;border-radius:8px;box-shadow:0 10px 22px rgba(85,205,197,0.28)"></div>
<div class="t" id="t88" style="top:1949.11px;font-size:32px;line-height:32px;color:#a0a6ad;font-weight:400;left:2092px;">Argentina</div>
<div class="t" id="t89" style="top:1949.11px;font-size:32px;line-height:32px;color:#3b4654;font-weight:400;transform:scaleX(0.9401);transform-origin:right top;right:792.40px;">2.97 GB / <span style="font-size:1.15em;line-height:0">&#8734;</span></div>
<div class="a" style="left:2092px;top:2006px;width:474px;height:16px;background:#eff0f2;border-radius:8px;"></div>
<div class="a" style="left:2092px;top:2006px;width:220px;height:16px;background:#1766dc;border-radius:8px;box-shadow:0 10px 22px rgba(23,102,220,0.25)"></div>
<div class="t" id="t90" style="top:1434.37px;font-size:35px;line-height:35px;color:#000;font-weight:700;transform:scaleX(0.9651);transform-origin:left top;left:2747.6px;">Balance</div>
<div class="t" id="t91" style="top:1440.29px;font-size:28px;line-height:28px;color:#3b4654;font-weight:400;transform:scaleX(0.9411);transform-origin:left top;left:3080.5px;">USD</div>
<div class="t" id="t92" style="top:1440.29px;font-size:28px;line-height:28px;color:#a5abb3;font-weight:400;transform:scaleX(0.8922);transform-origin:left top;left:3167.6px;">EUR</div>
<div class="a" style="left:3167.6px;top:1469.5px;width:51px;height:2px;background:repeating-linear-gradient(90deg,#b3b9c1 0 2px,transparent 2px 4.2px);border-radius:0px;"></div>
<div class="a" style="left:2910.5px;top:1574.5px;width:143px;height:143px;background:#e9f7f6;border-radius:72px;"></div>
<div class="t" id="t93" style="top:1778.65px;font-size:76px;line-height:76px;color:#000;font-weight:700;letter-spacing:1.552px;transform:scaleX(1.1);transform-origin:left top;left:2828.6px;">$496.40</div>
<div class="t" id="t94" style="top:1876.15px;font-size:31px;line-height:31px;color:#a0a6ad;font-weight:400;transform:scaleX(1.038);transform-origin:left top;left:2891.4px;">Total amount</div>
<div class="a" style="left:2855.7px;top:1966.7px;width:251.3px;height:54.7px;background:#edf1fa;border-radius:27.3px;"></div>
<div class="t" id="t95" style="top:1981.94px;font-size:27px;line-height:27px;color:#1d5fc6;font-weight:400;transform:scaleX(0.9378);transform-origin:center top;left:2181.40px;width:1600px;text-align:center;">10.12.2018, 13:26</div>
<div class="a" style="left:1380px;top:2171.5px;width:1900px;height:2px;background:#d9e0ea;border-radius:0px;"></div>
<div class="t" id="t96" style="top:2228.29px;font-size:28px;line-height:28px;color:#a5abb3;font-weight:400;transform:scaleX(0.9621);transform-origin:left top;left:1382.5px;">Mail:</div>
<div class="t" id="t97" style="top:2228.29px;font-size:28px;line-height:28px;color:#4a5360;font-weight:400;transform:scaleX(0.9617);transform-origin:left top;left:1450.5px;">support@soax.com</div>
<div class="t" id="t98" style="top:2228.29px;font-size:28px;line-height:28px;color:#a5abb3;font-weight:400;transform:scaleX(0.9719);transform-origin:left top;left:1746.5px;">Skype:</div>
<div class="t" id="t99" style="top:2228.29px;font-size:28px;line-height:28px;color:#4a5360;font-weight:400;transform:scaleX(0.9723);transform-origin:left top;left:1840.4px;">soax.com</div>
<div class="t" id="t100" style="top:2228.29px;font-size:28px;line-height:28px;color:#a5abb3;font-weight:400;transform:scaleX(0.9936);transform-origin:left top;left:2019px;">Telegram:</div>
<div class="t" id="t101" style="top:2228.29px;font-size:28px;line-height:28px;color:#4a5360;font-weight:400;transform:scaleX(0.9458);transform-origin:left top;left:2151.7px;">@soaxcom</div>
<div class="t" id="t102" style="top:2228.29px;font-size:28px;line-height:28px;color:#4a5360;font-weight:400;transform:scaleX(0.9637);transform-origin:right top;right:82.00px;">&#169; 2018 Soax.com</div>
<div class="t" id="t103" style="top:2315.30px;font-size:15px;line-height:15px;color:#ff1a1a;font-weight:400;font-family:'Liberation Serif',serif;transform:scaleX(1.0969);transform-origin:right top;right:3.00px;">www.lanlanwork.com</div>
<svg class="a" style="left:0px;top:0px;pointer-events:none" width="3360" height="2332" viewBox="0 0 3360 2332"><path d="M965.7 84 H981.9 M973.8 75.9 V92.1" stroke="#fff" stroke-width="4.2" stroke-linecap="round"/><polygon points="778,288 778,304 789.5,296" fill="#fff"/><circle cx="1163.7" cy="296" r="14.5" fill="none" stroke="#5dcfc7" stroke-width="3"/><circle cx="1163.7" cy="296" r="4.3" fill="#5dcfc7"/><rect x="622" y="436.0" width="24" height="32" rx="4.5" fill="#56cec6"/><rect x="626" y="440.0" width="16.2" height="20" fill="#fff"/><circle cx="634" cy="464.0" r="2.1" fill="#fff"/><path d="M619.86 505.86 A20.0 20.0 0 0 1 648.14 505.86 L644.89 509.11 A15.4 15.4 0 0 0 623.11 509.11 ZM624.45 510.45 A13.5 13.5 0 0 1 643.55 510.45 L640.51 513.49 A9.2 9.2 0 0 0 627.49 513.49 ZM634.00 520.00 L629.47 515.47 A6.4 6.4 0 0 1 638.53 515.47 Z" fill="#56cec6"/><rect x="779.7" y="863" width="4" height="14.7" rx="1" fill="#fff"/><rect x="788" y="863" width="4" height="14.7" rx="1" fill="#fff"/><circle cx="1163.7" cy="870" r="14.5" fill="none" stroke="#d9dce0" stroke-width="3"/><circle cx="1163.7" cy="870" r="4.3" fill="#d9dce0"/><path d="M622 1017.4999999999999 Q622 1012.4999999999999 625 1012.4999999999999 L628 1014.8999999999999 L626 1015.6999999999999 L626 1035.6 L645.9 1035.6 L645.9 1038.1 Q645.9 1043.3 640.7 1043.3 L627.2 1043.3 Q622 1043.3 622 1038.1 Z" fill="#56cec6"/><circle cx="634" cy="1039.6" r="2.1" fill="#fff"/><path d="M630.21 1017.51 A19.5 19.5 0 0 1 657.79 1017.51 L654.62 1020.68 A15.015 15.015 0 0 0 633.38 1020.68 ZM634.69 1021.99 A13.1625 13.1625 0 0 1 653.31 1021.99 L650.34 1024.96 A8.969999999999999 8.969999999999999 0 0 0 637.66 1024.96 ZM644.00 1031.30 L639.59 1026.89 A6.24 6.24 0 0 1 648.41 1026.89 Z" fill="#56cec6"/><path d="M619.86 1079.86 A20.0 20.0 0 0 1 648.14 1079.86 L644.89 1083.11 A15.4 15.4 0 0 0 623.11 1083.11 ZM624.45 1084.45 A13.5 13.5 0 0 1 643.55 1084.45 L640.51 1087.49 A9.2 9.2 0 0 0 627.49 1087.49 ZM634.00 1094.00 L629.47 1089.47 A6.4 6.4 0 0 1 638.53 1089.47 Z" fill="#56cec6"/><rect x="774" y="1441.5" width="15.8" height="11.8" rx="2" fill="#fff"/><path d="M777.3 1442 V1439.5 A4.6 4.6 0 0 1 786.5 1439.5 V1442" fill="none" stroke="#fff" stroke-width="2.8"/><circle cx="1163.7" cy="1444" r="14.5" fill="none" stroke="#d9dce0" stroke-width="3"/><circle cx="1163.7" cy="1444" r="4.3" fill="#d9dce0"/><path d="M619.86 1592.56 A20.0 20.0 0 0 1 648.14 1592.56 L644.89 1595.81 A15.4 15.4 0 0 0 623.11 1595.81 ZM624.45 1597.15 A13.5 13.5 0 0 1 643.55 1597.15 L640.51 1600.19 A9.2 9.2 0 0 0 627.49 1600.19 ZM634.00 1606.70 L629.47 1602.17 A6.4 6.4 0 0 1 638.53 1602.17 Z" fill="#56cec6"/><g transform="translate(636 1657.9) scale(0.5145) translate(-121.5 -84.8)"><path d="M121.5 57.2 L97.4 81.3 A9.76 9.76 0 0 0 111.2 95.1 L121.5 84.8 M121.5 84.8 L131.8 74.5 A9.76 9.76 0 0 1 145.6 88.3 L121.5 112.4" fill="none" stroke="#56cec6" stroke-width="7.8" stroke-linecap="round"/><g fill="#fff" stroke="#56cec6" stroke-width="7.6"><circle cx="121.5" cy="57.2" r="7.7"/><circle cx="121.5" cy="84.8" r="7.7"/><circle cx="121.5" cy="112.4" r="7.7"/></g></g><polygon points="1714,78 1714,94 1725.6,86" fill="#fff"/><path d="M2802.1 83.7 H2818.1 M2810.1 75.6 V91.8" stroke="#4fcdc4" stroke-width="4.2" stroke-linecap="round"/><rect x="3099.5" y="76" width="4.5" height="16.4" rx="1" fill="#0b55c9"/><rect x="3108.1" y="76" width="4.5" height="16.4" rx="1" fill="#0b55c9"/><g fill="none" stroke="#56cec6" stroke-width="4">
<circle cx="1488" cy="354" r="6"/><circle cx="1500" cy="354" r="6"/>
<path d="M1472 370 V363 Q1472 360 1475 360 H1513 Q1516 360 1516 363 V370 Z" fill="#e8f7f6"/>
<path d="M1474 370 V392 Q1474 396 1478 396 H1510 Q1514 396 1514 392 V370"/>
<path d="M1490 358 V396 M1498 358 V396"/>
</g><circle cx="1720.8" cy="636.7" r="9" fill="#56cfc6"/><circle cx="1951" cy="636.7" r="9" fill="#1b63e0"/><polygon points="3174,633 3189.3,633 3181.65,641.4" fill="#3b4654"/><circle cx="1676" cy="1543" r="10" fill="#0797e6"/><circle cx="1486" cy="1733" r="10.5" fill="#22d8b6"/><circle cx="1539" cy="2013" r="9" fill="#0b55d0"/><circle cx="1727" cy="2013" r="9" fill="#d9dce1"/><rect x="2253" y="1625" width="31.3" height="40.7" rx="5.5" fill="#fff"/><rect x="2258.3" y="1630.3" width="20.7" height="25.5" fill="#56cdc6"/><circle cx="2268.65" cy="1660.8" r="2.6" fill="#56cdc6"/><path d="M2367.85 1638.85 A29.2 29.2 0 0 1 2409.15 1638.85 L2404.40 1643.60 A22.483999999999998 22.483999999999998 0 0 0 2372.60 1643.60 ZM2374.56 1645.56 A19.71 19.71 0 0 1 2402.44 1645.56 L2398.00 1650.00 A13.431999999999999 13.431999999999999 0 0 0 2379.00 1650.00 ZM2388.50 1659.50 L2381.89 1652.89 A9.344 9.344 0 0 1 2395.11 1652.89 Z" fill="#fff"/><g fill="none" stroke="#56cec6" stroke-width="3.4"><rect x="2959.7" y="1624.1" width="44.3" height="43.2" rx="6"/>
<path d="M3004 1637.4 H2991.5 A8.3 8.3 0 0 0 2991.5 1654 H3004"/></g><circle cx="2992.4" cy="1646" r="2.2" fill="#56cec6"/></svg>
</body></html>
